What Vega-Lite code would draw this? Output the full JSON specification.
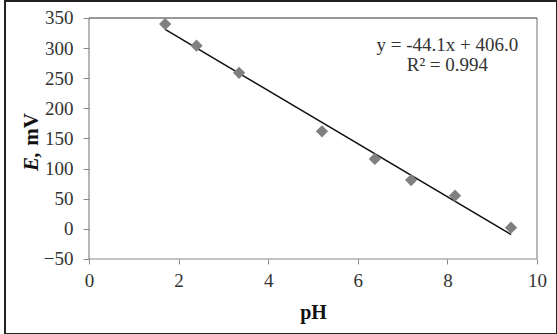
{
  "$schema": "https://vega.github.io/schema/vega-lite/v6.json",
  "width": 552,
  "height": 333,
  "autosize": {"type": "none"},
  "padding": {"left": 5, "top": 1, "right": 0, "bottom": 0},
  "background": "white",
  "config": {
    "view": {"stroke": "#222", "strokeWidth": 2},
    "font": "Liberation Serif",
    "axis": {"grid": false, "domain": false, "labelFont": "Liberation Serif", "labelColor": "#333", "tickColor": "#888", "labelOverlap": false, "labelFlush": false, "labelBound": false}
  },
  "datasets": {
    "points": [
      {"pH": 1.7, "E": 340},
      {"pH": 2.4, "E": 304},
      {"pH": 3.35, "E": 259},
      {"pH": 5.2, "E": 162},
      {"pH": 6.38, "E": 116},
      {"pH": 7.19, "E": 81},
      {"pH": 8.17, "E": 55},
      {"pH": 9.42, "E": 2}
    ],
    "trend": [
      {"pH": 1.7, "E": 331},
      {"pH": 9.42, "E": -9.4}
    ],
    "notes": [
      {"pH": 8.0, "E": 305, "label": "y = -44.1x + 406.0"},
      {"pH": 8.0, "E": 272, "label": "R² = 0.994"}
    ]
  },
  "layer": [
    {
      "data": {"values": [{}]},
      "mark": {"type": "rule", "color": "#888", "strokeWidth": 1.2},
      "encoding": {"x": {"datum": 0, "type": "quantitative"}, "y": {"datum": -50, "type": "quantitative"}, "y2": {"datum": 350}}
    },
    {
      "data": {"values": [{}]},
      "mark": {"type": "rule", "color": "#888", "strokeWidth": 1.2},
      "encoding": {"x": {"datum": 10, "type": "quantitative"}, "y": {"datum": -50, "type": "quantitative"}, "y2": {"datum": 350}}
    },
    {
      "data": {"values": [{}]},
      "mark": {"type": "rule", "color": "#888", "strokeWidth": 1.2},
      "encoding": {"y": {"datum": -50, "type": "quantitative"}, "x": {"datum": 0, "type": "quantitative"}, "x2": {"datum": 10}}
    },
    {
      "data": {"values": [{}]},
      "mark": {"type": "rule", "color": "#333", "strokeWidth": 1.2},
      "encoding": {"y": {"datum": 350, "type": "quantitative"}, "x": {"datum": 0, "type": "quantitative"}, "x2": {"datum": 10}}
    },
    {
      "data": {"name": "trend"},
      "mark": {"type": "line", "color": "#111", "strokeWidth": 1.5},
      "encoding": {
        "x": {"field": "pH", "type": "quantitative"},
        "y": {"field": "E", "type": "quantitative"}
      }
    },
    {
      "data": {"name": "points"},
      "mark": {"type": "point", "shape": "diamond", "filled": true, "size": 150, "color": "#808080", "opacity": 1},
      "encoding": {
        "x": {
          "field": "pH", "type": "quantitative",
          "scale": {"domain": [-1.875, 10.446], "nice": false, "zero": false},
          "axis": {"values": [0, 2, 4, 6, 8, 10], "offset": -75, "tickSize": 5, "labelPadding": 7, "labelFontSize": 19,
                   "title": "pH", "titleFont": "Liberation Serif", "titleFontSize": 20, "titleFontWeight": "bold", "titleColor": "#111",
                   "titleX": 308, "titleY": 53, "titleBaseline": "middle", "titleAnchor": null, "titleAlign": "center"}
        },
        "y": {
          "field": "E", "type": "quantitative",
          "scale": {"domain": [-174.5, 378.2], "nice": false, "zero": false},
          "axis": {"values": [-50, 0, 50, 100, 150, 200, 250, 300, 350], "offset": -84, "tickSize": 6, "labelPadding": 10, "labelFontSize": 19, "title": null}
        }
      }
    },
    {
      "data": {"name": "notes"},
      "mark": {"type": "text", "font": "Liberation Serif", "fontSize": 19, "color": "#333", "align": "center", "baseline": "middle"},
      "encoding": {
        "x": {"field": "pH", "type": "quantitative"},
        "y": {"field": "E", "type": "quantitative"},
        "text": {"field": "label"}
      }
    },
    {
      "data": {"values": [{"t": "E,"}]},
      "mark": {"type": "text", "font": "Liberation Serif", "fontSize": 21, "fontWeight": "bold", "fontStyle": "italic", "color": "#111", "angle": 270, "align": "left", "baseline": "middle"},
      "encoding": {"x": {"datum": -1.27, "type": "quantitative"}, "y": {"datum": 96, "type": "quantitative"}, "text": {"field": "t"}}
    },
    {
      "data": {"values": [{"t": "mV"}]},
      "mark": {"type": "text", "font": "Liberation Serif", "fontSize": 21, "fontWeight": "bold", "color": "#111", "angle": 270, "align": "right", "baseline": "middle"},
      "encoding": {"x": {"datum": -1.27, "type": "quantitative"}, "y": {"datum": 192, "type": "quantitative"}, "text": {"field": "t"}}
    }
  ]
}
